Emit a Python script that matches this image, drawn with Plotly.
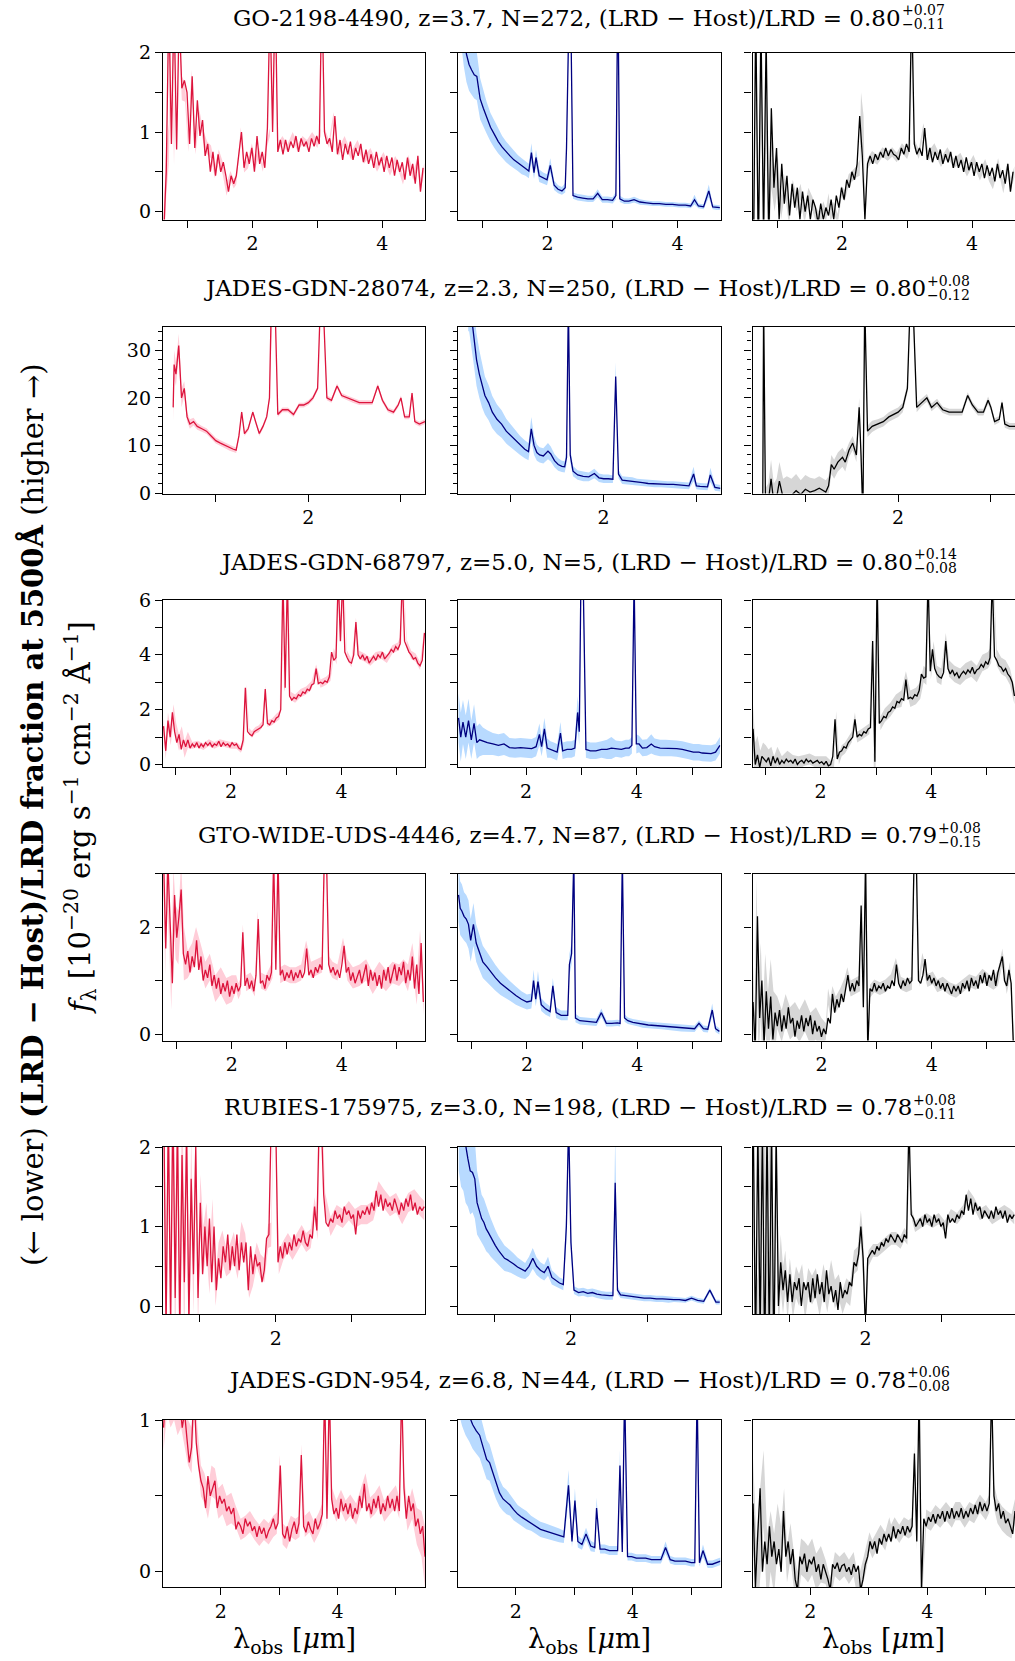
import plotly.graph_objects as go

# ---------------- data ----------------
# Coarse grids carry the uncertainty bands (and the smooth host model);
# fine grids (rows 1,3,4,5,6) carry the noisy LRD and residual curves.

# Row 1: GO-2198-4490
wave_r1 = [
    0.63, 0.67, 0.71, 0.75, 0.79, 0.83, 0.87, 0.91, 0.96, 1.01,
    1.06, 1.12, 1.18, 1.24, 1.30, 1.36, 1.42, 1.48, 1.54, 1.60,
    1.66, 1.71, 1.75, 1.79, 1.82, 1.87, 1.93, 1.99, 2.04, 2.10,
    2.16, 2.22, 2.27, 2.29, 2.33, 2.35, 2.39, 2.46, 2.54, 2.62,
    2.70, 2.77, 2.84, 2.92, 3.00, 3.05, 3.08, 3.11, 3.18, 3.25,
    3.33, 3.42, 3.52, 3.62, 3.72, 3.82, 3.92, 4.02, 4.12, 4.20,
    4.26, 4.32, 4.40, 4.48, 4.54, 4.60, 4.65]
lrd_r1 = [
    -0.3, 0.5, 0.85, 2.6, 0.78, 2.5, 2.3, 1.55, 1.5, 0.85,
    1.7, 0.8, 1.2, 0.95, 0.8, 0.75, 0.5, 0.7, 0.55, 0.28,
    0.45, 0.35, 0.4, 0.7, 1.0, 0.55, 0.6, 0.8, 0.6, 0.75,
    0.55, 0.85, 1.0, 2.6, 1.1, 2.8, 0.8, 0.9, 0.8, 0.95,
    0.8, 0.9, 0.85, 0.95, 0.85, 1.0, 2.8, 1.0, 0.85, 1.2,
    0.75, 0.9, 0.7, 0.85, 0.65, 0.75, 0.55, 0.7, 0.5, 0.65,
    0.55, 0.4, 0.65, 0.45, 0.6, 0.35, 0.55]
lrd_err_r1 = [
    0.3, 0.3, 0.25, 0.25, 0.2, 0.2, 0.15, 0.15, 0.12, 0.1,
    0.08, 0.08, 0.08, 0.08, 0.08, 0.08, 0.08, 0.08, 0.08, 0.08,
    0.06, 0.06, 0.06, 0.06, 0.06, 0.06, 0.06, 0.06, 0.06, 0.06,
    0.05, 0.05, 0.05, 0.05, 0.05, 0.05, 0.05, 0.05, 0.05, 0.05,
    0.05, 0.05, 0.05, 0.05, 0.05, 0.05, 0.05, 0.05, 0.05, 0.05,
    0.05, 0.05, 0.05, 0.05, 0.05, 0.05, 0.05, 0.05, 0.05, 0.05,
    0.06, 0.06, 0.06, 0.06, 0.06, 0.06, 0.06]
host_r1 = [
    2.9, 2.5, 2.2, 1.98, 1.85, 1.78, 1.72, 1.7, 1.42, 1.3,
    1.18, 1.06, 0.97, 0.88, 0.81, 0.75, 0.70, 0.65, 0.61, 0.57,
    0.54, 0.51, 0.74, 0.49, 0.68, 0.45, 0.42, 0.40, 0.58, 0.33,
    0.28, 0.26, 0.3, 0.8, 2.6, 2.9, 0.2, 0.18, 0.17, 0.16,
    0.16, 0.23, 0.15, 0.15, 0.14, 0.2, 2.9, 0.16, 0.13, 0.13,
    0.15, 0.12, 0.11, 0.10, 0.10, 0.09, 0.09, 0.08, 0.08, 0.07,
    0.15, 0.07, 0.06, 0.26, 0.06, 0.05, 0.05]
host_err_r1 = [
    0.45, 0.4, 0.38, 0.35, 0.33, 0.31, 0.3, 0.3, 0.26, 0.23,
    0.2, 0.18, 0.17, 0.15, 0.14, 0.13, 0.12, 0.11, 0.1, 0.1,
    0.09, 0.09, 0.12, 0.08, 0.1, 0.08, 0.07, 0.07, 0.09, 0.06,
    0.05, 0.05, 0.06, 0.2, 0.3, 0.3, 0.04, 0.04, 0.04, 0.04,
    0.04, 0.05, 0.04, 0.04, 0.04, 0.05, 0.3, 0.04, 0.035, 0.035,
    0.035, 0.035, 0.03, 0.03, 0.03, 0.03, 0.03, 0.03, 0.03, 0.03,
    0.06, 0.03, 0.03, 0.08, 0.03, 0.03, 0.03]
resid_r1 = [
    -1.0, 2.5, -0.6, 2.2, -0.4, 1.3, -0.2, 0.6, 0.25, 0.5,
    0.05, 0.35, -0.05, 0.3, 0.1, 0.25, -0.05, 0.2, 0.1, -0.05,
    -0.1, 0.05, -0.05, 0.15, -0.05, 0.05, -0.1, 0.25, 0.2, 0.4,
    0.45, 0.5, 0.55, 1.2, 0.9, -0.1, 0.6, 0.7, 0.65, 0.75,
    0.7, 0.75, 0.68, 0.8, 0.72, 0.85, 2.6, 0.85, 0.72, 1.05,
    0.7, 0.8, 0.62, 0.75, 0.6, 0.68, 0.5, 0.65, 0.45, 0.6,
    0.45, 0.35, 0.6, 0.3, 0.55, 0.35, 0.5]
resid_err_r1 = [
    0.6, 0.6, 0.5, 0.5, 0.45, 0.4, 0.35, 0.3, 0.25, 0.2,
    0.15, 0.12, 0.12, 0.1, 0.1, 0.1, 0.1, 0.1, 0.09, 0.09,
    0.09, 0.08, 0.08, 0.08, 0.08, 0.07, 0.07, 0.07, 0.07, 0.07,
    0.07, 0.07, 0.1, 0.3, 0.3, 0.2, 0.07, 0.06, 0.06, 0.06,
    0.06, 0.06, 0.06, 0.06, 0.06, 0.06, 0.2, 0.06, 0.06, 0.06,
    0.06, 0.06, 0.06, 0.06, 0.06, 0.06, 0.06, 0.06, 0.06, 0.06,
    0.07, 0.07, 0.07, 0.07, 0.07, 0.07, 0.07]
wave_fine_r1 = [
    0.63, 0.67, 0.71, 0.75, 0.79, 0.83, 0.87, 0.91, 0.95, 0.99,
    1.03, 1.07, 1.11, 1.15, 1.19, 1.23, 1.27, 1.31, 1.35, 1.39,
    1.43, 1.47, 1.51, 1.55, 1.59, 1.63, 1.67, 1.71, 1.75, 1.79,
    1.83, 1.87, 1.91, 1.95, 1.99, 2.03, 2.07, 2.11, 2.15, 2.19,
    2.23, 2.27, 2.31, 2.35, 2.39, 2.43, 2.47, 2.51, 2.55, 2.59,
    2.63, 2.67, 2.71, 2.75, 2.79, 2.83, 2.87, 2.91, 2.95, 2.99,
    3.03, 3.07, 3.11, 3.15, 3.19, 3.23, 3.27, 3.31, 3.35, 3.39,
    3.43, 3.47, 3.51, 3.55, 3.59, 3.63, 3.67, 3.71, 3.75, 3.79,
    3.83, 3.87, 3.91, 3.95, 3.99, 4.03, 4.07, 4.11, 4.15, 4.19,
    4.23, 4.27, 4.31, 4.35, 4.39, 4.43, 4.47, 4.51, 4.55, 4.59,
    4.63]
lrd_fine_r1 = [
    -0.3, 0.5, 2.6, 0.85, 2.6, 0.78, 2.5, 1.55, 1.65, 1.5,
    0.85, 1.7, 0.8, 1.4, 0.95, 1.15, 0.7, 0.85, 0.5, 0.75,
    0.45, 0.72, 0.5, 0.62, 0.45, 0.25, 0.45, 0.35, 0.45, 0.7,
    1.0, 0.55, 0.75, 0.6, 0.8, 0.5, 0.95, 0.6, 0.75, 0.55,
    1.05, 2.6, 1.0, 2.8, 0.75, 0.9, 0.72, 0.9, 0.75, 0.88,
    0.8, 0.95, 0.75, 0.92, 0.82, 0.88, 0.75, 0.92, 0.82, 0.95,
    0.85, 2.8, 1.0, 0.85, 0.92, 0.75, 1.2, 0.72, 0.9, 0.65,
    0.85, 0.72, 0.88, 0.65, 0.8, 0.7, 0.85, 0.62, 0.78, 0.6,
    0.72, 0.55, 0.75, 0.58, 0.68, 0.5, 0.7, 0.55, 0.68, 0.45,
    0.65, 0.5, 0.62, 0.4, 0.68, 0.45, 0.6, 0.35, 0.7, 0.25,
    0.55]
resid_fine_r1 = [
    -1.0, 2.5, -0.6, 2.4, -0.3, 2.2, -0.4, 1.3, 0.3, 0.8,
    -0.1, 0.6, 0.1, 0.45, -0.05, 0.35, 0.05, 0.3, -0.1, 0.25,
    0.0, 0.2, -0.1, 0.15, 0.05, -0.15, 0.1, -0.1, 0.05, -0.05,
    0.15, -0.1, 0.2, 0.05, 0.3, 0.15, 0.4, 0.3, 0.5, 0.4,
    0.6, 1.2, 0.7, -0.1, 0.6, 0.7, 0.6, 0.72, 0.65, 0.75,
    0.68, 0.8, 0.7, 0.78, 0.72, 0.7, 0.65, 0.8, 0.72, 0.85,
    0.75, 2.6, 0.85, 0.72, 0.8, 0.7, 1.05, 0.65, 0.8, 0.62,
    0.75, 0.65, 0.78, 0.6, 0.72, 0.62, 0.75, 0.55, 0.7, 0.55,
    0.65, 0.5, 0.68, 0.52, 0.62, 0.45, 0.62, 0.5, 0.6, 0.42,
    0.58, 0.45, 0.55, 0.38, 0.6, 0.42, 0.52, 0.35, 0.6, 0.25,
    0.5]

# Row 2: JADES-GDN-28074
wave_r2 = [
    0.54, 0.55, 0.57, 0.60, 0.63, 0.66, 0.69, 0.72, 0.76, 0.80,
    0.85, 0.90, 0.95, 1.00, 1.05, 1.10, 1.15, 1.19, 1.22, 1.25,
    1.28, 1.31, 1.35, 1.40, 1.43, 1.47, 1.51, 1.55, 1.58, 1.60,
    1.62, 1.64, 1.67, 1.72, 1.78, 1.84, 1.90, 1.95, 2.00, 2.05,
    2.10, 2.13, 2.16, 2.20, 2.25, 2.31, 2.36, 2.42, 2.48, 2.55,
    2.62, 2.69, 2.75, 2.80, 2.86, 2.92, 2.97, 3.00, 3.04, 3.09,
    3.12, 3.15, 3.20, 3.26]
lrd_r2 = [
    18, 27, 25, 31, 20, 22, 16, 14.5, 15, 14,
    13.5, 13, 12, 11, 10.5, 10, 9.5, 9.2, 9, 12,
    17, 12.5, 13.5, 17, 15, 12.5, 14, 16, 20, 40,
    40, 40, 16.5, 17.5, 17.5, 16.5, 18.5, 18.5, 19, 20,
    22, 40, 40, 20, 19.5, 22.5, 20.5, 20, 19.5, 19,
    19, 19, 22.5, 19.5, 17.5, 17, 18.5, 20, 16, 16,
    21, 15, 14.5, 15]
lrd_err_r2 = [
    3, 3, 2.5, 2.5, 2, 1.5, 1, 1, 0.8, 0.7,
    0.6, 0.6, 0.6, 0.6, 0.6, 0.6, 0.6, 0.6, 0.6, 0.6,
    0.5, 0.5, 0.5, 0.5, 0.5, 0.5, 0.5, 0.5, 0.5, 0.5,
    0.5, 0.5, 0.5, 0.5, 0.5, 0.5, 0.5, 0.5, 0.5, 0.5,
    0.5, 0.5, 0.5, 0.5, 0.5, 0.5, 0.5, 0.5, 0.5, 0.5,
    0.5, 0.5, 0.5, 0.5, 0.5, 0.5, 0.5, 0.5, 0.5, 0.5,
    0.5, 0.5, 0.5, 0.5]
host_r2 = [
    40, 40, 38, 33, 28, 25, 22.5, 20.5, 19, 17,
    15.5, 14.5, 13, 12, 11, 10, 9.2, 8.7, 13.5, 10,
    8.5, 8, 7.8, 8.8, 8.2, 6.8, 6, 5.6, 5.5, 7.5,
    40, 8, 4.6, 3.8, 3.5, 3.4, 4.1, 3.2, 3, 3,
    2.9, 24.5, 4, 2.7, 2.6, 2.5, 2.3, 2.2, 2, 1.9,
    1.9, 1.8, 1.8, 1.75, 1.6, 1.5, 4, 1.5, 1.4, 1.3,
    1.3, 3.8, 1.2, 1.0]
host_err_r2 = [
    6, 6, 6, 6, 5.5, 5, 4.5, 4, 3.7, 3.4,
    3.1, 2.9, 2.6, 2.4, 2.2, 2, 1.9, 1.8, 2.5, 2,
    1.7, 1.6, 1.6, 1.7, 1.6, 1.4, 1.3, 1.2, 1.2, 1.5,
    3, 1.5, 1.1, 1, 1, 0.9, 1, 0.9, 0.9, 0.9,
    0.8, 3, 0.9, 0.8, 0.8, 0.8, 0.7, 0.7, 0.7, 0.7,
    0.7, 0.7, 0.7, 0.7, 0.7, 0.7, 1.5, 0.7, 0.7, 0.7,
    0.7, 1.5, 0.7, 0.7]
resid_r2 = [
    -5, 40, -3, -2, 3, -2, -1, 2.5, -1, -0.5,
    -0.5, 0.5, -0.3, 0.8, 0.2, 0.5, 1, 0.5, 0.2, 1.5,
    6, 5, 6.5, 7.5, 6.5, 9, 10.5, 8, 18, 8,
    -5, 40, 13, 14, 14.5, 15, 16, 16.5, 17, 18,
    22, 40, 40, 18, 19, 20, 18, 19, 17.5, 17,
    17, 17, 20.5, 18.5, 17, 17, 19.5, 18, 15, 15.5,
    19, 14.5, 14, 14]
resid_err_r2 = [
    4, 4, 4, 4, 4, 4, 4, 4, 4, 4,
    3.5, 3.5, 3, 3, 3, 2.5, 2.5, 2.5, 2.5, 2,
    2, 2, 2, 2, 2, 1.5, 1.5, 1.5, 2, 2,
    3, 3, 1.2, 1.2, 1, 1, 1, 1, 1, 1,
    1, 3, 3, 1, 0.8, 0.8, 0.8, 0.8, 0.7, 0.7,
    0.7, 0.7, 0.7, 0.7, 0.7, 0.7, 0.8, 0.7, 0.7, 0.7,
    0.7, 0.8, 0.7, 0.7]

# Row 3: JADES-GDN-68797
wave_r3 = [
    0.78, 0.82, 0.86, 0.91, 0.96, 1.01, 1.06, 1.11, 1.16, 1.22,
    1.30, 1.40, 1.50, 1.60, 1.70, 1.80, 1.90, 2.00, 2.10, 2.18,
    2.24, 2.28, 2.33, 2.38, 2.44, 2.50, 2.56, 2.62, 2.66, 2.74,
    2.82, 2.88, 2.93, 2.96, 2.99, 3.03, 3.08, 3.16, 3.26, 3.36,
    3.46, 3.54, 3.62, 3.72, 3.80, 3.86, 3.91, 3.95, 3.99, 4.04,
    4.10, 4.18, 4.26, 4.32, 4.42, 4.52, 4.62, 4.72, 4.82, 4.92,
    5.02, 5.08, 5.12, 5.18, 5.26, 5.34, 5.42, 5.50]
lrd_r3 = [
    1.4, 0.5, 1.6, 1.0, 1.9, 1.2, 0.8, 1.1, 0.55, 0.9,
    0.7, 0.75, 0.65, 0.8, 0.7, 0.8, 0.75, 0.7, 0.7, 0.55,
    0.9, 2.8, 1.2, 1.1, 1.25, 1.3, 1.45, 2.75, 1.5, 1.55,
    1.7, 1.8, 6.8, 2.8, 3.0, 6.8, 2.5, 2.4, 2.6, 2.7,
    2.9, 3.5, 2.95, 3.05, 3.2, 4.1, 3.8, 6.8, 4.5, 6.8,
    4.0, 3.7, 5.2, 4.0, 3.9, 3.75, 3.95, 4.0, 3.85, 4.2,
    4.3, 4.6, 6.8, 4.4, 4.0, 3.9, 3.6, 4.8]
lrd_err_r3 = [
    0.3, 0.3, 0.3, 0.3, 0.3, 0.3, 0.3, 0.3, 0.3, 0.3,
    0.12, 0.12, 0.12, 0.12, 0.12, 0.12, 0.12, 0.12, 0.12, 0.12,
    0.12, 0.12, 0.12, 0.12, 0.12, 0.12, 0.12, 0.12, 0.12, 0.12,
    0.15, 0.15, 0.15, 0.15, 0.15, 0.15, 0.15, 0.15, 0.15, 0.15,
    0.15, 0.15, 0.15, 0.15, 0.15, 0.15, 0.15, 0.15, 0.15, 0.15,
    0.15, 0.15, 0.15, 0.15, 0.15, 0.15, 0.15, 0.15, 0.15, 0.15,
    0.15, 0.15, 0.15, 0.15, 0.15, 0.15, 0.15, 0.15]
host_r3 = [
    1.7, 1.0, 1.55, 1.0, 1.6, 0.9, 1.5, 0.8, 0.9, 0.85,
    0.8, 0.75, 0.7, 0.75, 0.62, 0.6, 0.62, 0.6, 0.58, 0.65,
    1.1, 0.65, 1.3, 0.6, 0.55, 0.5, 0.45, 1.15, 0.5, 0.55,
    0.55, 0.6, 1.9, 1.2, 6.8, 6.8, 0.55, 0.5, 0.5, 0.55,
    0.55, 0.6, 0.58, 0.55, 0.6, 0.6, 0.7, 6.8, 0.75, 0.75,
    0.6, 0.62, 0.75, 0.65, 0.6, 0.6, 0.6, 0.58, 0.55, 0.5,
    0.45, 0.45, 0.45, 0.42, 0.4, 0.4, 0.45, 0.7]
host_err_r3 = [
    0.9, 0.9, 0.8, 0.8, 0.8, 0.7, 0.7, 0.6, 0.6, 0.5,
    0.45, 0.4, 0.4, 0.4, 0.35, 0.35, 0.35, 0.35, 0.35, 0.35,
    0.4, 0.35, 0.4, 0.35, 0.3, 0.3, 0.3, 0.4, 0.3, 0.3,
    0.3, 0.3, 0.6, 0.5, 0.6, 0.6, 0.3, 0.3, 0.3, 0.3,
    0.35, 0.4, 0.3, 0.3, 0.3, 0.3, 0.3, 0.6, 0.35, 0.3,
    0.3, 0.3, 0.35, 0.3, 0.3, 0.3, 0.3, 0.3, 0.3, 0.3,
    0.3, 0.3, 0.3, 0.3, 0.3, 0.3, 0.3, 0.3]
resid_r3 = [
    1.3, 0.0, 0.35, -0.1, 0.3, 0.2, 0.15, 0.25, -0.05, 0.3,
    0.0, 0.2, 0.1, 0.05, 0.15, 0.2, 0.1, 0.1, 0.1, -0.05,
    0.0, 1.65, 0.2, 0.5, 0.6, 0.8, 1.0, 1.65, 1.0, 1.1,
    1.2, 1.3, 4.5, 0.1, -0.2, 6.8, 1.5, 1.8, 2.0, 2.3,
    2.4, 3.1, 2.4, 2.5, 2.7, 3.3, 3.2, 6.8, 3.4, 4.2,
    3.3, 3.2, 4.5, 3.5, 3.3, 3.2, 3.4, 3.5, 3.3, 3.7,
    3.8, 4.0, 6.8, 3.9, 3.6, 3.5, 3.2, 2.5]
resid_err_r3 = [
    0.9, 0.8, 0.7, 0.6, 0.5, 0.5, 0.4, 0.4, 0.35, 0.35,
    0.3, 0.3, 0.25, 0.25, 0.2, 0.2, 0.2, 0.2, 0.2, 0.2,
    0.2, 0.3, 0.2, 0.2, 0.2, 0.2, 0.2, 0.25, 0.2, 0.2,
    0.2, 0.2, 0.4, 0.3, 0.5, 0.5, 0.25, 0.25, 0.25, 0.25,
    0.3, 0.3, 0.3, 0.3, 0.3, 0.3, 0.3, 0.3, 0.3, 0.3,
    0.3, 0.3, 0.3, 0.3, 0.3, 0.3, 0.3, 0.3, 0.3, 0.3,
    0.3, 0.3, 0.3, 0.3, 0.3, 0.3, 0.3, 0.3]
wave_fine_r3 = [
    0.78, 0.82, 0.86, 0.90, 0.94, 0.98, 1.02, 1.06, 1.10, 1.14,
    1.18, 1.22, 1.26, 1.30, 1.34, 1.38, 1.42, 1.46, 1.50, 1.54,
    1.58, 1.62, 1.66, 1.70, 1.74, 1.78, 1.82, 1.86, 1.90, 1.94,
    1.98, 2.02, 2.06, 2.10, 2.14, 2.18, 2.22, 2.26, 2.30, 2.34,
    2.38, 2.42, 2.46, 2.50, 2.54, 2.58, 2.62, 2.66, 2.70, 2.74,
    2.78, 2.82, 2.86, 2.90, 2.94, 2.98, 3.02, 3.06, 3.10, 3.14,
    3.18, 3.22, 3.26, 3.30, 3.34, 3.38, 3.42, 3.46, 3.50, 3.54,
    3.58, 3.62, 3.66, 3.70, 3.74, 3.78, 3.82, 3.86, 3.90, 3.94,
    3.98, 4.02, 4.06, 4.10, 4.14, 4.18, 4.22, 4.26, 4.30, 4.34,
    4.38, 4.42, 4.46, 4.50, 4.54, 4.58, 4.62, 4.66, 4.70, 4.74,
    4.78, 4.82, 4.86, 4.90, 4.94, 4.98, 5.02, 5.06, 5.10, 5.14,
    5.18, 5.22, 5.26, 5.30, 5.34, 5.38, 5.42, 5.46, 5.50]
lrd_fine_r3 = [
    1.4, 0.5, 1.6, 1.0, 1.9, 1.2, 0.8, 1.1, 0.55, 0.9,
    0.65, 0.9, 0.6, 0.75, 0.65, 0.8, 0.6, 0.75, 0.65, 0.8,
    0.7, 0.8, 0.65, 0.75, 0.7, 0.85, 0.65, 0.8, 0.7, 0.75,
    0.65, 0.8, 0.7, 0.75, 0.6, 0.55, 0.9, 2.8, 1.2, 1.1,
    1.05, 1.2, 1.25, 1.3, 1.35, 1.45, 2.75, 1.5, 1.45, 1.6,
    1.55, 1.7, 1.75, 2.0, 6.8, 2.8, 6.8, 2.5, 2.35, 2.45,
    2.4, 2.55, 2.5, 2.65, 2.6, 2.75, 2.7, 2.9, 2.95, 3.5,
    2.95, 3.0, 2.95, 3.05, 3.0, 3.2, 4.1, 3.8, 3.9, 6.8,
    4.5, 6.8, 4.1, 3.9, 3.75, 3.7, 4.0, 5.2, 4.0, 3.85,
    4.0, 3.8, 3.95, 3.7, 3.85, 3.95, 3.8, 4.0, 3.9, 4.1,
    3.85, 3.95, 4.05, 4.2, 4.1, 4.3, 4.2, 4.4, 6.8, 4.5,
    4.3, 4.1, 4.0, 3.85, 3.9, 3.7, 3.6, 3.8, 4.8]
resid_fine_r3 = [
    1.3, 0.0, 0.35, -0.1, 0.3, 0.2, 0.1, 0.25, -0.05, 0.3,
    0.05, 0.25, 0.0, 0.15, 0.05, 0.2, 0.1, 0.15, 0.05, 0.2,
    0.0, 0.1, 0.15, 0.05, 0.2, 0.1, 0.15, 0.05, 0.1, 0.15,
    0.05, 0.1, 0.0, 0.12, -0.05, 0.0, 0.3, 1.65, 0.2, 0.45,
    0.5, 0.65, 0.6, 0.8, 0.9, 1.0, 1.65, 1.0, 1.1, 1.05,
    1.2, 1.15, 1.3, 1.35, 4.5, 0.1, 6.8, 1.5, 1.6, 1.75,
    1.7, 1.9, 1.95, 2.1, 2.05, 2.3, 2.25, 2.4, 2.35, 3.1,
    2.4, 2.45, 2.4, 2.55, 2.5, 2.7, 3.3, 3.15, 3.2, 6.8,
    3.4, 4.2, 3.5, 3.3, 3.2, 3.15, 3.35, 4.5, 3.5, 3.3,
    3.45, 3.25, 3.35, 3.15, 3.3, 3.4, 3.3, 3.45, 3.35, 3.55,
    3.3, 3.45, 3.5, 3.65, 3.55, 3.75, 3.65, 3.9, 6.8, 3.95,
    3.8, 3.6, 3.55, 3.4, 3.5, 3.3, 3.2, 3.0, 2.5]

# Row 4: GTO-WIDE-UDS-4446
wave_r4 = [
    0.76, 0.79, 0.82, 0.86, 0.90, 0.94, 0.98, 1.03, 1.08, 1.13,
    1.20, 1.28, 1.35, 1.43, 1.52, 1.60, 1.70, 1.80, 1.90, 2.00,
    2.08, 2.12, 2.16, 2.20, 2.26, 2.34, 2.42, 2.47, 2.53, 2.62,
    2.70, 2.74, 2.77, 2.81, 2.85, 2.88, 2.96, 3.06, 3.16, 3.26,
    3.35, 3.44, 3.54, 3.64, 3.69, 3.73, 3.77, 3.83, 3.92, 4.02,
    4.10, 4.20, 4.32, 4.44, 4.56, 4.68, 4.80, 4.92, 5.04, 5.12,
    5.20, 5.28, 5.36, 5.42, 5.49]
lrd_r4 = [
    3.3, 1.6, 3.2, 2.2, 0.95, 2.6, 1.9, 1.8, 2.7, 1.5,
    1.3, 1.45, 1.75, 1.45, 1.1, 1.25, 0.85, 1.0, 0.8, 0.85,
    0.95, 0.8, 0.9, 1.9, 0.95, 1.0, 0.85, 2.15, 1.0, 0.95,
    1.1, 1.2, 3.3, 1.3, 3.3, 1.1, 1.15, 1.1, 1.1, 1.15,
    1.6, 1.2, 1.25, 1.3, 3.3, 3.3, 1.3, 1.2, 1.15, 1.65,
    1.2, 1.05, 1.1, 1.2, 0.95, 1.15, 1.0, 1.15, 1.1, 1.2,
    1.05, 1.45, 0.8, 1.7, 0.6]
lrd_err_r4 = [
    0.5, 0.5, 0.5, 0.5, 0.5, 0.5, 0.5, 0.5, 0.5, 0.5,
    0.25, 0.25, 0.25, 0.25, 0.25, 0.25, 0.25, 0.25, 0.25, 0.25,
    0.15, 0.15, 0.15, 0.15, 0.15, 0.15, 0.15, 0.15, 0.15, 0.15,
    0.15, 0.15, 0.15, 0.15, 0.15, 0.15, 0.15, 0.15, 0.15, 0.15,
    0.15, 0.15, 0.15, 0.15, 0.15, 0.15, 0.15, 0.15, 0.15, 0.15,
    0.2, 0.2, 0.2, 0.2, 0.2, 0.2, 0.2, 0.2, 0.2, 0.2,
    0.25, 0.25, 0.25, 0.25, 0.25]
host_r4 = [
    2.6, 2.35, 2.3, 2.2, 2.15, 2.05, 1.75, 2.05, 1.7, 1.55,
    1.35, 1.25, 1.15, 1.05, 0.95, 0.88, 0.8, 0.72, 0.65, 0.6,
    0.62, 1.0, 0.65, 0.98, 0.55, 0.47, 0.42, 0.9, 0.4, 0.35,
    0.35, 0.35, 1.3, 1.5, 3.3, 0.3, 0.25, 0.24, 0.23, 0.22,
    0.4, 0.2, 0.2, 0.21, 0.2, 3.3, 0.3, 0.25, 0.22, 0.2,
    0.18, 0.17, 0.16, 0.15, 0.14, 0.12, 0.11, 0.1, 0.1, 0.2,
    0.1, 0.09, 0.45, 0.1, 0.05]
host_err_r4 = [
    0.5, 0.5, 0.5, 0.45, 0.45, 0.45, 0.4, 0.4, 0.35, 0.33,
    0.3, 0.28, 0.26, 0.24, 0.22, 0.2, 0.18, 0.17, 0.15, 0.14,
    0.14, 0.2, 0.13, 0.2, 0.12, 0.11, 0.1, 0.15, 0.1, 0.09,
    0.09, 0.09, 0.2, 0.2, 0.3, 0.08, 0.07, 0.07, 0.07, 0.07,
    0.08, 0.06, 0.06, 0.06, 0.06, 0.3, 0.07, 0.06, 0.06, 0.06,
    0.06, 0.06, 0.06, 0.06, 0.06, 0.06, 0.06, 0.06, 0.06, 0.06,
    0.06, 0.06, 0.12, 0.06, 0.06]
resid_r4 = [
    0.6, -0.3, 2.2, 0.3, 1.0, -0.2, 0.8, 0.1, 0.7, 0.1,
    0.4, 0.15, 0.45, 0.2, 0.3, 0.15, 0.35, 0.1, 0.2, 0.0,
    0.05, 0.7, 0.5, 0.75, 0.55, 0.7, 0.9, 1.1, 0.85, 0.9,
    0.95, 2.4, 0.6, 3.3, -0.3, 0.8, 0.9, 0.85, 0.9, 1.0,
    1.3, 0.95, 0.9, 0.95, 3.3, 3.3, 1.0, 1.4, 1.0, 1.05,
    0.9, 0.95, 0.85, 0.8, 0.9, 1.0, 0.95, 1.1, 1.0, 0.95,
    1.05, 1.45, 0.9, 1.2, -0.2]
resid_err_r4 = [
    0.7, 0.7, 0.7, 0.7, 0.7, 0.7, 0.7, 0.7, 0.7, 0.7,
    0.3, 0.3, 0.3, 0.3, 0.3, 0.3, 0.3, 0.3, 0.3, 0.3,
    0.15, 0.15, 0.15, 0.15, 0.15, 0.15, 0.15, 0.15, 0.15, 0.15,
    0.15, 0.2, 0.2, 0.3, 0.3, 0.12, 0.12, 0.12, 0.12, 0.12,
    0.12, 0.12, 0.12, 0.12, 0.12, 0.12, 0.12, 0.12, 0.12, 0.12,
    0.12, 0.12, 0.12, 0.12, 0.12, 0.12, 0.12, 0.12, 0.12, 0.12,
    0.15, 0.15, 0.15, 0.15, 0.15]
wave_fine_r4 = [
    0.76, 0.80, 0.84, 0.88, 0.92, 0.96, 1.00, 1.04, 1.08, 1.12,
    1.16, 1.20, 1.24, 1.28, 1.32, 1.36, 1.40, 1.44, 1.48, 1.52,
    1.56, 1.60, 1.64, 1.68, 1.72, 1.76, 1.80, 1.84, 1.88, 1.92,
    1.96, 2.00, 2.04, 2.08, 2.12, 2.16, 2.20, 2.24, 2.28, 2.32,
    2.36, 2.40, 2.44, 2.48, 2.52, 2.56, 2.60, 2.64, 2.68, 2.72,
    2.76, 2.80, 2.84, 2.88, 2.92, 2.96, 3.00, 3.04, 3.08, 3.12,
    3.16, 3.20, 3.24, 3.28, 3.32, 3.36, 3.40, 3.44, 3.48, 3.52,
    3.56, 3.60, 3.64, 3.68, 3.72, 3.76, 3.80, 3.84, 3.88, 3.92,
    3.96, 4.00, 4.04, 4.08, 4.12, 4.16, 4.20, 4.24, 4.28, 4.32,
    4.36, 4.40, 4.44, 4.48, 4.52, 4.56, 4.60, 4.64, 4.68, 4.72,
    4.76, 4.80, 4.84, 4.88, 4.92, 4.96, 5.00, 5.04, 5.08, 5.12,
    5.16, 5.20, 5.24, 5.28, 5.32, 5.36, 5.40, 5.44, 5.48]
lrd_fine_r4 = [
    3.3, 1.6, 3.2, 2.2, 0.95, 2.6, 1.8, 2.2, 2.7, 1.5,
    1.3, 1.55, 1.15, 1.45, 1.25, 1.75, 1.2, 1.45, 1.0, 1.2,
    1.05, 1.3, 0.9, 1.1, 0.85, 1.05, 0.75, 0.95, 0.8, 1.0,
    0.7, 0.9, 0.75, 0.95, 0.8, 0.9, 1.9, 0.9, 1.05, 0.85,
    1.0, 0.8, 1.1, 2.15, 0.95, 1.0, 0.85, 1.1, 1.0, 1.15,
    3.3, 1.2, 3.3, 1.1, 1.2, 1.0, 1.15, 1.05, 1.2, 1.0,
    1.15, 1.05, 1.2, 1.05, 1.15, 1.6, 1.1, 1.2, 1.05, 1.25,
    1.15, 1.3, 1.2, 3.3, 3.3, 1.3, 1.15, 1.25, 1.1, 1.2,
    1.05, 1.3, 1.65, 1.15, 1.25, 1.0, 1.15, 0.95, 1.1, 1.2,
    0.95, 1.15, 1.3, 0.9, 1.2, 1.0, 1.15, 0.9, 1.1, 0.85,
    1.2, 1.0, 1.25, 0.95, 1.15, 1.3, 1.0, 1.25, 1.1, 1.35,
    0.95, 1.2, 1.0, 1.45, 0.85, 1.3, 0.75, 1.7, 0.6]
resid_fine_r4 = [
    0.6, -0.3, 2.2, 0.3, 1.0, -0.2, 0.8, 0.1, 0.7, -0.1,
    0.4, 0.15, 0.45, 0.05, 0.35, 0.1, 0.5, 0.2, 0.3, -0.05,
    0.25, 0.1, 0.35, 0.05, 0.3, 0.15, 0.35, 0.0, 0.25, 0.05,
    0.15, -0.05, 0.1, 0.0, 0.3, 0.2, 0.75, 0.4, 0.65, 0.5,
    0.75, 0.6, 0.85, 1.1, 0.8, 0.95, 0.8, 1.0, 0.9, 2.4,
    0.5, 3.3, -0.3, 0.85, 0.8, 0.95, 0.8, 0.9, 0.85, 0.95,
    0.8, 0.9, 0.85, 1.0, 0.9, 1.3, 0.95, 0.85, 1.0, 0.9,
    1.05, 0.95, 1.0, 3.3, 3.3, 1.0, 0.95, 1.1, 1.4, 1.0,
    1.1, 0.95, 1.05, 0.9, 1.0, 0.85, 0.95, 0.8, 0.95, 0.85,
    0.75, 0.9, 0.8, 0.9, 0.75, 0.95, 0.85, 1.0, 0.8, 1.05,
    0.9, 1.0, 0.85, 1.1, 0.95, 1.15, 0.9, 1.1, 1.0, 1.2,
    0.9, 1.15, 1.3, 1.45, 1.0, 0.9, 1.2, 0.95, -0.2]

# Row 5: RUBIES-175975
wave_r5 = [
    0.53, 0.56, 0.59, 0.62, 0.65, 0.68, 0.71, 0.74, 0.77, 0.80,
    0.83, 0.86, 0.89, 0.92, 0.95, 0.98, 1.01, 1.05, 1.09, 1.13,
    1.17, 1.21, 1.25, 1.30, 1.35, 1.40, 1.45, 1.50, 1.55, 1.60,
    1.65, 1.70, 1.75, 1.80, 1.85, 1.90, 1.94, 1.97, 2.00, 2.04,
    2.10, 2.16, 2.22, 2.28, 2.34, 2.40, 2.46, 2.51, 2.55, 2.58,
    2.61, 2.65, 2.72, 2.80, 2.88, 2.96, 3.04, 3.12, 3.20, 3.28,
    3.35, 3.42, 3.50, 3.58, 3.66, 3.74, 3.82, 3.90, 3.95]
lrd_r5 = [
    2.5, -0.3, 2.4, -0.2, 2.6, 0.1, 2.3, -0.3, 1.9, 0.3,
    2.2, -0.2, 1.6, 0.4, 2.0, 0.1, 1.3, 0.7, 1.0, 0.4,
    1.1, 0.2, 0.6, 0.75, 0.55, 0.6, 0.75, 0.5, 0.9, 0.75,
    0.25, 0.4, 0.65, 0.5, 0.45, 0.88, 0.9, 2.3, 2.3, 0.55,
    0.7, 0.8, 0.7, 0.8, 0.9, 0.8, 0.85, 1.25, 0.95, 2.3,
    2.3, 1.3, 1.0, 1.15, 1.1, 1.2, 1.1, 1.15, 1.15, 1.2,
    1.45, 1.35, 1.25, 1.3, 1.15, 1.3, 1.35, 1.25, 1.2]
lrd_err_r5 = [
    0.8, 0.8, 0.8, 0.8, 0.8, 0.8, 0.8, 0.8, 0.8, 0.8,
    0.6, 0.6, 0.5, 0.5, 0.45, 0.4, 0.35, 0.3, 0.3, 0.25,
    0.25, 0.2, 0.2, 0.2, 0.18, 0.18, 0.18, 0.16, 0.16, 0.16,
    0.15, 0.15, 0.15, 0.15, 0.15, 0.15, 0.15, 0.15, 0.15, 0.15,
    0.12, 0.12, 0.12, 0.12, 0.12, 0.12, 0.12, 0.12, 0.12, 0.12,
    0.12, 0.12, 0.12, 0.12, 0.12, 0.12, 0.12, 0.12, 0.12, 0.12,
    0.12, 0.12, 0.12, 0.12, 0.12, 0.12, 0.12, 0.12, 0.12]
host_r5 = [
    2.6, 2.3, 2.2, 2.0, 1.85, 1.7, 1.68, 1.6, 1.3, 1.2,
    1.1, 1.05, 0.97, 0.92, 0.86, 0.8, 0.76, 0.7, 0.65, 0.6,
    0.58, 0.56, 0.53, 0.49, 0.46, 0.44, 0.5, 0.6, 0.5, 0.45,
    0.42, 0.5, 0.36, 0.32, 0.29, 0.27, 1.0, 2.3, 0.8, 0.2,
    0.17, 0.18, 0.16, 0.17, 0.15, 0.14, 0.13, 0.13, 0.13, 1.55,
    0.2, 0.14, 0.13, 0.12, 0.11, 0.1, 0.1, 0.09, 0.09, 0.08,
    0.08, 0.08, 0.07, 0.1, 0.07, 0.06, 0.2, 0.05, 0.05]
host_err_r5 = [
    0.9, 0.8, 0.75, 0.7, 0.6, 0.55, 0.5, 0.5, 0.4, 0.35,
    0.3, 0.3, 0.28, 0.26, 0.24, 0.22, 0.2, 0.18, 0.17, 0.16,
    0.15, 0.14, 0.13, 0.12, 0.11, 0.1, 0.12, 0.13, 0.11, 0.1,
    0.1, 0.12, 0.09, 0.08, 0.07, 0.07, 0.2, 0.3, 0.15, 0.05,
    0.05, 0.05, 0.05, 0.05, 0.05, 0.05, 0.05, 0.05, 0.05, 0.6,
    0.05, 0.04, 0.04, 0.04, 0.04, 0.04, 0.04, 0.04, 0.04, 0.04,
    0.03, 0.03, 0.03, 0.03, 0.03, 0.03, 0.03, 0.03, 0.03]
resid_r5 = [
    2.3, -0.6, -0.4, 2.3, -0.8, 2.3, -0.5, 2.3, 0.3, -0.8,
    2.2, 0.0, 0.55, 0.2, 0.45, 0.05, 0.4, 0.05, 0.3, 0.2,
    0.35, 0.0, 0.3, 0.2, 0.3, 0.05, 0.35, 0.1, 0.4, 0.15,
    0.25, 0.05, 0.2, 0.15, 0.55, 0.6, 1.0, 0.6, -0.3, 0.6,
    0.7, 0.7, 0.75, 0.8, 0.85, 0.85, 0.8, 0.9, 0.85, 2.3,
    1.15, 1.0, 1.05, 1.1, 1.05, 1.1, 1.0, 1.15, 1.1, 1.2,
    1.4, 1.3, 1.15, 1.2, 1.1, 1.15, 1.2, 1.15, 1.1]
resid_err_r5 = [
    0.8, 0.8, 0.8, 0.8, 0.8, 0.8, 0.8, 0.8, 0.8, 0.8,
    0.5, 0.4, 0.35, 0.3, 0.25, 0.25, 0.2, 0.2, 0.2, 0.2,
    0.18, 0.18, 0.18, 0.18, 0.18, 0.18, 0.18, 0.18, 0.18, 0.18,
    0.15, 0.15, 0.15, 0.15, 0.15, 0.15, 0.2, 0.3, 0.3, 0.1,
    0.08, 0.08, 0.08, 0.08, 0.08, 0.08, 0.08, 0.08, 0.08, 0.08,
    0.07, 0.07, 0.07, 0.07, 0.07, 0.07, 0.07, 0.07, 0.07, 0.07,
    0.07, 0.07, 0.07, 0.07, 0.07, 0.07, 0.07, 0.07, 0.07]
wave_fine_r5 = [
    0.53, 0.56, 0.59, 0.62, 0.65, 0.68, 0.71, 0.74, 0.77, 0.80,
    0.83, 0.86, 0.89, 0.92, 0.95, 0.98, 1.01, 1.04, 1.07, 1.10,
    1.13, 1.16, 1.19, 1.22, 1.25, 1.28, 1.31, 1.34, 1.37, 1.40,
    1.43, 1.46, 1.49, 1.52, 1.55, 1.58, 1.61, 1.64, 1.67, 1.70,
    1.73, 1.76, 1.79, 1.82, 1.85, 1.88, 1.91, 1.94, 1.97, 2.00,
    2.03, 2.06, 2.09, 2.12, 2.15, 2.18, 2.21, 2.24, 2.27, 2.30,
    2.33, 2.36, 2.39, 2.42, 2.45, 2.48, 2.51, 2.54, 2.57, 2.60,
    2.63, 2.66, 2.69, 2.72, 2.75, 2.78, 2.81, 2.84, 2.87, 2.90,
    2.93, 2.96, 2.99, 3.02, 3.05, 3.08, 3.11, 3.14, 3.17, 3.20,
    3.23, 3.26, 3.29, 3.32, 3.35, 3.38, 3.41, 3.44, 3.47, 3.50,
    3.53, 3.56, 3.59, 3.62, 3.65, 3.68, 3.71, 3.74, 3.77, 3.80,
    3.83, 3.86, 3.89, 3.92, 3.95]
lrd_fine_r5 = [
    2.5, -0.3, 2.4, -0.2, 2.6, 0.1, 2.3, -0.3, 1.9, 0.3,
    2.2, -0.2, 1.6, 0.4, 2.0, 0.1, 1.3, 0.4, 1.0, 0.5,
    1.1, 0.3, 1.0, 0.2, 0.6, 0.35, 0.75, 0.55, 0.9, 0.45,
    0.75, 0.5, 0.9, 0.45, 0.8, 0.55, 0.8, 0.2, 0.75, 0.4,
    0.65, 0.5, 0.55, 0.3, 0.45, 0.85, 0.9, 2.3, 2.3, 2.3,
    0.55, 0.75, 0.6, 0.8, 0.65, 0.8, 0.7, 0.9, 0.75, 0.85,
    0.8, 0.95, 0.8, 0.75, 0.9, 0.85, 1.25, 0.95, 2.3, 2.3,
    1.4, 1.05, 1.0, 1.1, 1.05, 1.2, 1.1, 1.15, 1.05, 1.25,
    1.15, 1.2, 1.1, 1.15, 0.9, 1.2, 1.1, 1.2, 1.15, 1.25,
    1.15, 1.3, 1.2, 1.45, 1.25, 1.4, 1.2, 1.35, 1.25, 1.3,
    1.2, 1.35, 1.25, 1.15, 1.3, 1.2, 1.35, 1.25, 1.4, 1.2,
    1.3, 1.15, 1.25, 1.2, 1.25]
resid_fine_r5 = [
    2.3, -0.6, 2.3, -0.4, 2.3, -0.8, 2.3, -0.5, 2.3, -0.8,
    2.2, 0.0, 0.55, 0.2, 0.45, 0.05, 0.4, 0.05, 0.3, 0.2,
    0.35, 0.0, 0.3, 0.2, 0.3, 0.05, 0.35, 0.1, 0.4, 0.15,
    0.3, 0.05, 0.45, 0.15, 0.25, 0.05, 0.2, -0.05, 0.3, 0.1,
    0.2, 0.15, 0.3, 0.25, 0.55, 0.5, 0.65, 1.0, 0.6, -0.3,
    0.6, 0.65, 0.7, 0.65, 0.75, 0.7, 0.8, 0.75, 0.85, 0.8,
    0.9, 0.85, 0.8, 0.9, 0.85, 0.8, 0.9, 0.85, 2.3, 1.15,
    1.1, 1.0, 1.05, 1.1, 1.0, 1.15, 1.05, 1.1, 1.0, 1.15,
    1.05, 1.1, 1.0, 1.05, 0.85, 1.15, 1.05, 1.1, 1.05, 1.15,
    1.1, 1.2, 1.15, 1.4, 1.2, 1.35, 1.15, 1.3, 1.2, 1.25,
    1.1, 1.2, 1.15, 1.1, 1.2, 1.1, 1.25, 1.15, 1.2, 1.1,
    1.2, 1.05, 1.15, 1.1, 1.15]

# Row 6: JADES-GDN-954
wave_r6 = [
    1.02, 1.08, 1.14, 1.20, 1.26, 1.32, 1.38, 1.44, 1.50, 1.55,
    1.60, 1.66, 1.72, 1.78, 1.84, 1.90, 1.96, 2.03, 2.10, 2.18,
    2.26, 2.34, 2.42, 2.50, 2.58, 2.66, 2.74, 2.82, 2.90, 2.96,
    3.01, 3.06, 3.13, 3.20, 3.28, 3.35, 3.38, 3.44, 3.52, 3.60,
    3.68, 3.74, 3.78, 3.82, 3.86, 3.91, 3.98, 4.06, 4.14, 4.22,
    4.32, 4.42, 4.48, 4.56, 4.64, 4.72, 4.80, 4.90, 5.00, 5.06,
    5.10, 5.14, 5.20, 5.28, 5.36, 5.44, 5.50]
lrd_r6 = [
    0.95, 1.2, 1.1, 1.15, 1.05, 1.1, 0.98, 0.85, 0.8, 1.2,
    0.85, 0.6, 0.55, 0.45, 0.6, 0.58, 0.45, 0.48, 0.4, 0.42,
    0.36, 0.28, 0.3, 0.33, 0.28, 0.24, 0.28, 0.25, 0.3, 0.32,
    0.7, 0.25, 0.22, 0.3, 0.28, 0.3, 0.77, 0.3, 0.33, 0.26,
    0.32, 0.38, 1.2, 0.35, 1.2, 0.48, 0.4, 0.47, 0.4, 0.44,
    0.38, 0.5, 0.58, 0.42, 0.45, 0.5, 0.4, 0.45, 0.5, 0.42,
    1.2, 0.55, 0.35, 0.45, 0.3, 0.25, 0.1]
lrd_err_r6 = [
    0.15, 0.15, 0.15, 0.15, 0.15, 0.15, 0.15, 0.15, 0.15, 0.15,
    0.1, 0.1, 0.1, 0.1, 0.1, 0.1, 0.1, 0.1, 0.1, 0.1,
    0.07, 0.07, 0.07, 0.07, 0.07, 0.07, 0.07, 0.07, 0.07, 0.07,
    0.07, 0.07, 0.07, 0.07, 0.07, 0.07, 0.07, 0.07, 0.07, 0.07,
    0.07, 0.07, 0.07, 0.07, 0.07, 0.07, 0.07, 0.07, 0.07, 0.07,
    0.07, 0.07, 0.07, 0.07, 0.07, 0.07, 0.07, 0.07, 0.07, 0.07,
    0.1, 0.08, 0.08, 0.1, 0.12, 0.15, 0.2]
host_r6 = [
    1.25, 1.15, 1.08, 1.03, 0.97, 0.93, 0.9, 0.82, 0.74, 0.72,
    0.66, 0.58, 0.52, 0.48, 0.46, 0.44, 0.41, 0.38, 0.36, 0.34,
    0.32, 0.3, 0.28, 0.27, 0.26, 0.25, 0.24, 0.23, 0.57, 0.2,
    0.47, 0.2, 0.18, 0.25, 0.17, 0.16, 0.42, 0.15, 0.15, 0.14,
    0.14, 0.14, 0.7, 0.13, 1.2, 0.1, 0.1, 0.09, 0.09, 0.09,
    0.08, 0.08, 0.08, 0.16, 0.08, 0.07, 0.07, 0.07, 0.06, 0.06,
    1.2, 0.06, 0.14, 0.05, 0.05, 0.06, 0.07]
host_err_r6 = [
    0.2, 0.19, 0.18, 0.17, 0.16, 0.15, 0.15, 0.14, 0.13, 0.12,
    0.11, 0.1, 0.09, 0.08, 0.08, 0.07, 0.07, 0.06, 0.06, 0.06,
    0.05, 0.05, 0.05, 0.05, 0.05, 0.045, 0.045, 0.04, 0.1, 0.04,
    0.08, 0.04, 0.035, 0.04, 0.035, 0.03, 0.07, 0.03, 0.03, 0.03,
    0.03, 0.03, 0.1, 0.03, 0.2, 0.025, 0.025, 0.025, 0.025, 0.025,
    0.025, 0.025, 0.025, 0.04, 0.025, 0.025, 0.025, 0.025, 0.025, 0.025,
    0.2, 0.025, 0.04, 0.025, 0.025, 0.025, 0.025]
resid_r6 = [
    0.45, -0.1, 0.25, 0.55, 0.0, 0.2, 0.05, 0.3, 0.15, 0.4,
    0.05, 0.2, 0.0, -0.12, 0.1, 0.08, 0.05, 0.1, 0.0, 0.05,
    0.0, -0.12, 0.05, 0.02, 0.05, 0.0, 0.05, -0.12, 0.0, 0.1,
    0.2, 0.15, 0.2, 0.25, 0.2, 0.3, 0.25, 0.3, 0.25, 0.3,
    0.28, 0.3, 0.78, 0.2, 1.2, -0.12, 0.35, 0.33, 0.38, 0.35,
    0.4, 0.35, 0.4, 0.4, 0.35, 0.4, 0.38, 0.45, 0.4, 0.45,
    1.2, 0.5, 0.4, 0.35, 0.32, 0.3, 0.4]
resid_err_r6 = [
    0.3, 0.3, 0.3, 0.25, 0.25, 0.2, 0.2, 0.15, 0.15, 0.15,
    0.12, 0.12, 0.12, 0.12, 0.12, 0.12, 0.12, 0.12, 0.12, 0.12,
    0.08, 0.08, 0.08, 0.08, 0.08, 0.08, 0.08, 0.08, 0.08, 0.08,
    0.06, 0.06, 0.06, 0.06, 0.06, 0.06, 0.06, 0.06, 0.06, 0.06,
    0.06, 0.06, 0.06, 0.06, 0.06, 0.06, 0.06, 0.06, 0.06, 0.06,
    0.06, 0.06, 0.06, 0.06, 0.06, 0.06, 0.06, 0.06, 0.06, 0.06,
    0.08, 0.08, 0.08, 0.08, 0.08, 0.08, 0.08]
wave_fine_r6 = [
    1.02, 1.06, 1.10, 1.14, 1.18, 1.22, 1.26, 1.30, 1.34, 1.38,
    1.42, 1.46, 1.50, 1.54, 1.58, 1.62, 1.66, 1.70, 1.74, 1.78,
    1.82, 1.86, 1.90, 1.94, 1.98, 2.02, 2.06, 2.10, 2.14, 2.18,
    2.22, 2.26, 2.30, 2.34, 2.38, 2.42, 2.46, 2.50, 2.54, 2.58,
    2.62, 2.66, 2.70, 2.74, 2.78, 2.82, 2.86, 2.90, 2.94, 2.98,
    3.02, 3.06, 3.10, 3.14, 3.18, 3.22, 3.26, 3.30, 3.34, 3.38,
    3.42, 3.46, 3.50, 3.54, 3.58, 3.62, 3.66, 3.70, 3.74, 3.78,
    3.82, 3.86, 3.90, 3.94, 3.98, 4.02, 4.06, 4.10, 4.14, 4.18,
    4.22, 4.26, 4.30, 4.34, 4.38, 4.42, 4.46, 4.50, 4.54, 4.58,
    4.62, 4.66, 4.70, 4.74, 4.78, 4.82, 4.86, 4.90, 4.94, 4.98,
    5.02, 5.06, 5.10, 5.14, 5.18, 5.22, 5.26, 5.30, 5.34, 5.38,
    5.42, 5.46, 5.50]
lrd_fine_r6 = [
    0.95, 1.2, 1.1, 1.25, 1.05, 1.15, 1.0, 1.1, 0.95, 1.05,
    0.88, 0.72, 0.82, 1.2, 0.85, 0.7, 0.6, 0.55, 0.42, 0.63,
    0.5, 0.55, 0.6, 0.42, 0.5, 0.45, 0.48, 0.4, 0.43, 0.38,
    0.42, 0.28, 0.33, 0.3, 0.25, 0.35, 0.3, 0.33, 0.27, 0.3,
    0.23, 0.3, 0.25, 0.29, 0.22, 0.27, 0.3, 0.35, 0.28, 0.32,
    0.7, 0.25, 0.22, 0.3, 0.2, 0.28, 0.33, 0.25, 0.32, 0.77,
    0.3, 0.26, 0.33, 0.28, 0.25, 0.35, 0.28, 0.32, 0.38, 1.2,
    0.35, 1.2, 0.48, 0.38, 0.42, 0.35, 0.48, 0.4, 0.45, 0.38,
    0.45, 0.35, 0.42, 0.38, 0.5, 0.42, 0.58, 0.4, 0.45, 0.38,
    0.48, 0.42, 0.5, 0.38, 0.45, 0.4, 0.5, 0.42, 0.48, 0.4,
    0.5, 0.4, 1.2, 0.55, 0.35, 0.5, 0.4, 0.45, 0.3, 0.35,
    0.25, 0.3, 0.1]
resid_fine_r6 = [
    0.45, -0.1, 0.25, 0.55, 0.0, 0.2, 0.05, 0.3, 0.1, 0.2,
    0.05, 0.15, 0.0, 0.4, 0.1, 0.2, 0.05, 0.15, -0.05, -0.12,
    0.1, 0.05, 0.12, 0.0, 0.08, 0.05, 0.1, 0.0, 0.05, -0.05,
    0.05, 0.0, -0.05, -0.12, 0.05, 0.02, 0.06, 0.0, 0.04, 0.05,
    0.0, 0.03, -0.02, 0.05, 0.0, 0.04, -0.12, -0.05, 0.05, 0.1,
    0.2, 0.15, 0.2, 0.12, 0.22, 0.18, 0.25, 0.2, 0.25, 0.2,
    0.3, 0.22, 0.28, 0.25, 0.3, 0.24, 0.3, 0.26, 0.3, 0.78,
    0.2, 1.2, -0.12, 0.35, 0.3, 0.36, 0.33, 0.38, 0.32, 0.38,
    0.35, 0.4, 0.33, 0.4, 0.35, 0.42, 0.35, 0.4, 0.36, 0.42,
    0.35, 0.4, 0.36, 0.42, 0.38, 0.44, 0.38, 0.46, 0.4, 0.45,
    0.4, 0.45, 1.2, 0.5, 0.4, 0.45, 0.35, 0.4, 0.32, 0.35,
    0.3, 0.25, 0.4]

# object metadata (titles)
names = ["GO-2198-4490", "JADES-GDN-28074", "JADES-GDN-68797",
         "GTO-WIDE-UDS-4446", "RUBIES-175975", "JADES-GDN-954"]
redshifts = ["3.7", "2.3", "5.0", "4.7", "3.0", "6.8"]
n_counts = [272, 250, 5, 87, 198, 44]
fractions = ["0.80", "0.80", "0.80", "0.79", "0.78", "0.78"]
frac_up = ["+0.07", "+0.08", "+0.14", "+0.08", "+0.08", "+0.06"]
frac_lo = ["−0.11", "−0.12", "−0.08", "−0.15", "−0.11", "−0.08"]

# axis limits and ticks
x_ranges = [[0.62, 4.66], [0.43, 3.26], [0.77, 5.51],
            [0.75, 5.51], [0.52, 3.96], [1.01, 5.50]]
y_ranges = [[-0.1, 2.0], [-0.1, 35.0], [-0.09, 6.0],
            [-0.12, 3.0], [-0.1, 2.0], [-0.1, 1.0]]
x_tickvals = [[1, 2, 3, 4], [1, 2, 3], [1, 2, 3, 4, 5],
              [1, 2, 3, 4, 5], [1, 2, 3], [2, 3, 4, 5]]
x_ticktext = [["", "2", "", "4"], ["", "2", ""], ["", "2", "", "4", ""],
              ["", "2", "", "4", ""], ["", "2", ""], ["2", "", "4", ""]]
y_tickvals = [[0, 0.5, 1, 1.5, 2], [0, 10, 20, 30], [0, 1, 2, 3, 4, 5, 6],
              [0, 1, 2, 3], [0, 0.5, 1, 1.5, 2], [0, 0.5, 1]]
y_ticktext = [["0", "", "1", "", "2"], ["0", "10", "20", "30"],
              ["0", "", "2", "", "4", "", "6"], ["0", "", "2", ""],
              ["0", "", "1", "", "2"], ["0", "", "1"]]
y_minor_r2 = [2, 4, 6, 8, 12, 14, 16, 18, 22, 24, 26, 28, 32, 34]

rows = [
    (wave_r1, lrd_r1, lrd_err_r1, host_r1, host_err_r1, resid_r1, resid_err_r1),
    (wave_r2, lrd_r2, lrd_err_r2, host_r2, host_err_r2, resid_r2, resid_err_r2),
    (wave_r3, lrd_r3, lrd_err_r3, host_r3, host_err_r3, resid_r3, resid_err_r3),
    (wave_r4, lrd_r4, lrd_err_r4, host_r4, host_err_r4, resid_r4, resid_err_r4),
    (wave_r5, lrd_r5, lrd_err_r5, host_r5, host_err_r5, resid_r5, resid_err_r5),
    (wave_r6, lrd_r6, lrd_err_r6, host_r6, host_err_r6, resid_r6, resid_err_r6),
]
fine_rows = [
    (wave_fine_r1, lrd_fine_r1, resid_fine_r1),
    None,
    (wave_fine_r3, lrd_fine_r3, resid_fine_r3),
    (wave_fine_r4, lrd_fine_r4, resid_fine_r4),
    (wave_fine_r5, lrd_fine_r5, resid_fine_r5),
    (wave_fine_r6, lrd_fine_r6, resid_fine_r6),
]
for i, rdata in enumerate(rows):
    lens = [len(a) for a in rdata]
    if len(set(lens)) != 1:
        raise ValueError(f"row {i+1} length mismatch: {lens}")
    if fine_rows[i] is not None:
        flens = [len(a) for a in fine_rows[i]]
        if len(set(flens)) != 1:
            raise ValueError(f"row {i+1} fine length mismatch: {flens}")

# ---------------- layout / style ----------------
W, H = 1015, 1661
FONT = "DejaVu Serif"
col_px = [(163.0, 425.0), (458.0, 720.5), (752.5, 1015.0)]
row_px = [(52.5, 219.5), (326.5, 493.5), (600.0, 767.0),
          (873.5, 1040.5), (1147.0, 1314.0), (1420.0, 1587.0)]
title_y = [17.5, 288.3, 561.6, 835.0, 1107.3, 1379.6]
title_end = [902.7, 928.4, 914.5, 938.5, 913.5, 907.5]

line_colors = ["#DC143C", "#000080", "#000000"]
band_colors = ["rgb(255,205,216)", "rgb(184,218,255)", "rgb(214,214,214)"]

fig = go.Figure()
layout = dict(
    template="none",
    width=W, height=H, autosize=False,
    margin=dict(l=0, r=0, t=0, b=0, pad=0, autoexpand=False),
    paper_bgcolor="white", plot_bgcolor="white",
    showlegend=False,
    font=dict(family=FONT, color="black"),
    annotations=[],
)

for r, rdata in enumerate(rows):
    wave = rdata[0]
    series = [(rdata[1], rdata[2]), (rdata[3], rdata[4]), (rdata[5], rdata[6])]
    fine = fine_rows[r]
    for c in range(3):
        k = r * 3 + c + 1
        xa = "x" if k == 1 else f"x{k}"
        ya = "y" if k == 1 else f"y{k}"
        flux, err = series[c]
        upper = [f + e for f, e in zip(flux, err)]
        lower = [f - e for f, e in zip(flux, err)]
        fig.add_trace(go.Scatter(
            x=list(wave) + list(wave)[::-1], y=upper + lower[::-1],
            fill="toself", fillcolor=band_colors[c], mode="lines",
            line=dict(width=0), hoverinfo="skip", xaxis=xa, yaxis=ya))
        if fine is not None and c == 0:
            lx, ly = fine[0], fine[1]
        elif fine is not None and c == 2:
            lx, ly = fine[0], fine[2]
        else:
            lx, ly = wave, flux
        fig.add_trace(go.Scatter(
            x=lx, y=ly, mode="lines",
            line=dict(color=line_colors[c], width=1.3),
            hoverinfo="skip", xaxis=xa, yaxis=ya))

        x0, x1 = col_px[c]
        t0, t1 = row_px[r]
        xkey = "xaxis" if k == 1 else f"xaxis{k}"
        ykey = "yaxis" if k == 1 else f"yaxis{k}"
        layout[xkey] = dict(
            domain=[x0 / W, x1 / W], range=x_ranges[r], anchor=ya,
            automargin=False,
            tickmode="array", tickvals=x_tickvals[r], ticktext=x_ticktext[r],
            ticks="outside", ticklen=7, tickwidth=1.1, tickcolor="black",
            showline=True, linecolor="black", linewidth=1.3, mirror=True,
            showgrid=False, zeroline=False,
            tickfont=dict(family=FONT, size=19, color="black"))
        yax = dict(
            domain=[1 - t1 / H, 1 - t0 / H], range=y_ranges[r], anchor=xa,
            automargin=False,
            tickmode="array", tickvals=y_tickvals[r], ticktext=y_ticktext[r],
            ticks="outside", ticklen=7, tickwidth=1.1, tickcolor="black",
            showline=True, linecolor="black", linewidth=1.3, mirror=(c < 2),
            showgrid=False, zeroline=False, showticklabels=(c == 0),
            tickfont=dict(family=FONT, size=19, color="black"))
        if r == 1:
            yax["minor"] = dict(tickmode="array", tickvals=y_minor_r2,
                                ticks="outside", ticklen=4, tickwidth=1,
                                tickcolor="black", showgrid=False)
        layout[ykey] = yax

    # row title with stacked asymmetric errors
    main = (f"{names[r]}, z={redshifts[r]}, N={n_counts[r]}, "
            f"(LRD − Host)/LRD = {fractions[r]}")
    ex = title_end[r] / W
    layout["annotations"].append(dict(
        text=main, x=ex, y=1 - title_y[r] / H, xref="paper", yref="paper",
        xanchor="right", yanchor="middle", showarrow=False,
        font=dict(family=FONT, size=23, color="black")))
    layout["annotations"].append(dict(
        text=frac_up[r], x=ex - 3 / W, y=1 - (title_y[r] - 7.2) / H,
        xref="paper", yref="paper", xanchor="left", yanchor="middle",
        showarrow=False, font=dict(family=FONT, size=14, color="black")))
    layout["annotations"].append(dict(
        text=frac_lo[r], x=ex - 3 / W, y=1 - (title_y[r] + 6.5) / H,
        xref="paper", yref="paper", xanchor="left", yanchor="middle",
        showarrow=False, font=dict(family=FONT, size=14, color="black")))

# x-axis labels under bottom row
for c in range(3):
    cx = (col_px[c][0] + col_px[c][1]) / 2 / W
    layout["annotations"].append(dict(
        text="λ<sub>obs</sub> [<i>μ</i>m]", x=cx, y=1 - 1640 / H,
        xref="paper", yref="paper", xanchor="center", yanchor="middle",
        showarrow=False, font=dict(family=FONT, size=27, color="black")))

# shared y-axis label (two lines, rotated)
layout["annotations"].append(dict(
    text="(← lower) <b>(LRD − Host)/LRD fraction at 5500Å</b> (higher →)",
    x=32 / W, y=1 - 815 / H, xref="paper", yref="paper",
    xanchor="center", yanchor="middle", textangle=-90, showarrow=False,
    font=dict(family=FONT, size=29, color="black")))
layout["annotations"].append(dict(
    text="<i>f</i><sub>λ</sub> [10<sup>−20</sup> erg s<sup>−1</sup> cm<sup>−2</sup> Å<sup>−1</sup>]",
    x=80 / W, y=1 - 818 / H, xref="paper", yref="paper",
    xanchor="center", yanchor="middle", textangle=-90, showarrow=False,
    font=dict(family=FONT, size=29, color="black")))

fig.update_layout(**layout)
fig.write_html("out.html")
